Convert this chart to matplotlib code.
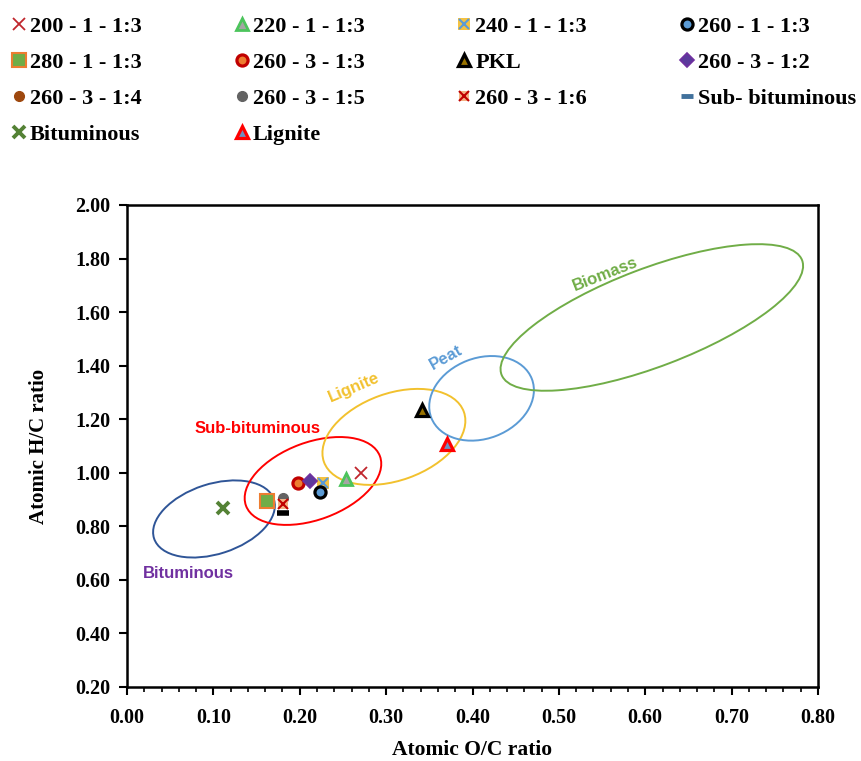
import numpy as np
import matplotlib
matplotlib.use('Agg')
import matplotlib.pyplot as plt
from matplotlib.patches import Ellipse
from matplotlib.transforms import ScaledTranslation
from matplotlib.lines import Line2D
from matplotlib.ticker import MultipleLocator

plt.rcParams['font.family'] = ['Liberation Serif', 'DejaVu Serif']
plt.rcParams['font.weight'] = 'bold'

# sample points (atomic O/C, atomic H/C)
labels = ['200 - 1 - 1:3', '220 - 1 - 1:3', '240 - 1 - 1:3', '260 - 1 - 1:3',
          '280 - 1 - 1:3', '260 - 3 - 1:3', 'PKL', '260 - 3 - 1:2',
          '260 - 3 - 1:4', '260 - 3 - 1:5', '260 - 3 - 1:6', 'Sub- bituminous',
          'Bituminous', 'Lignite']
oc = [0.271, 0.253, 0.227, 0.223, 0.162, 0.198, 0.342, 0.212,
      0.198, 0.181, 0.181, 0.181, 0.111, 0.370]
hc = [1.000, 0.978, 0.960, 0.929, 0.893, 0.960, 1.234, 0.968,
      0.960, 0.905, 0.882, 0.849, 0.867, 1.108]

# coal rank regions: centre (O/C, H/C), semi axes in px, angle, colour, label
regions = ['Bituminous', 'Sub-bituminous', 'Lignite', 'Peat', 'Biomass']
reg_cx = [0.1007, 0.2153, 0.309, 0.4105, 0.6076]
reg_cy = [0.8275, 0.9694, 1.134, 1.278, 1.580]
reg_a = [63, 71.4, 74.3, 53.9, 160.8]
reg_b = [35, 38.7, 43.5, 40.3, 49.0]
reg_ang = [18, 20.3, 19.7, 21.1, 20.85]
reg_col = ['#2F5597', '#FF0000', '#F2C12E', '#5B9BD5', '#70AD47']
lab_x = [0.0706, 0.1516, 0.263, 0.369, 0.554]
lab_y = [0.624, 1.167, 1.319, 1.431, 1.742]
lab_rot = [0, 0, 23, 29, 21.5]
lab_col = ['#7030A0', '#FF0000', '#F2C12E', '#5B9BD5', '#70AD47']

fig = plt.figure(figsize=(8.62, 7.61), dpi=100)
ax = fig.add_axes([127/862, 1-687/761, (818-127)/862, (687-205)/761])

# marker styles per series
styles = [
    [dict(marker='x', color='#C0262D', ms=8, mew=1.3)],
    [dict(marker='^', mfc='#A5A5A5', mec='#4CC45C', ms=8, mew=2.0)],
    [dict(marker='s', mfc='#F4C242', mec='#F4C242', ms=8, mew=0),
     dict(marker='x', color='#5B9BD5', ms=7, mew=1.5)],
    [dict(marker='o', mfc='#5B9BD5', mec='black', ms=8, mew=2.3)],
    [dict(marker='s', mfc='#70AD47', mec='#ED7D31', ms=10, mew=1.5)],
    [dict(marker='o', mfc='#ED7D31', mec='#C00000', ms=8, mew=2.3)],
    [dict(marker='^', mfc='#997300', mec='black', ms=8, mew=2.3)],
    [dict(marker='D', mfc='#5B3A9C', mec='#7030A0', ms=7, mew=1.2)],
    [dict(marker='o', mfc='#9E480E', mec='#9E480E', ms=7, mew=1)],
    [dict(marker='o', mfc='#636363', mec='#636363', ms=7, mew=1)],
    [dict(marker='s', mfc='#F4B183', mec='#F4B183', ms=7, mew=0),
     dict(marker='x', color='#C00000', ms=7, mew=1.5)],
    [dict(marker='_', color='black', ms=9, mew=4)],
    [dict(marker='x', color='#548235', ms=8, mew=2.8)],
    [dict(marker='^', mfc='#6F8FC0', mec='#FF0000', ms=8, mew=2.3)],
]
draw_order = [8, 0, 1, 2, 3, 4, 9, 10, 11, 5, 7, 6, 12, 13]

handles = [None] * len(labels)
for i in draw_order:
    parts = []
    for st in styles[i]:
        ln, = ax.plot([oc[i]], [hc[i]], ls='none', zorder=4, **st)
        parts.append(ln)
    handles[i] = tuple(parts)
# legend shows the sub-bituminous dash in blue
handles[11] = Line2D([], [], ls='none', marker='_', color='#41719C', ms=9, mew=3.5)

for i in range(len(regions)):
    t = fig.dpi_scale_trans + ScaledTranslation(reg_cx[i], reg_cy[i], ax.transData)
    ax.add_patch(Ellipse((0, 0), 2*reg_a[i]/100, 2*reg_b[i]/100, angle=reg_ang[i],
                         transform=t, fill=False, ec=reg_col[i], lw=1.4, zorder=2))
    ax.text(lab_x[i], lab_y[i], regions[i], color=lab_col[i], rotation=lab_rot[i],
            ha='center', va='center', fontsize=12, fontweight='bold',
            family=['Liberation Sans', 'DejaVu Sans'], rotation_mode='anchor')

ax.set_xlim(0, 0.8)
ax.set_ylim(0.2, 2.0)
ax.xaxis.set_major_locator(MultipleLocator(0.1))
ax.xaxis.set_minor_locator(MultipleLocator(0.02))
ax.yaxis.set_major_locator(MultipleLocator(0.2))
ax.xaxis.set_major_formatter(lambda v, p: f'{v:.2f}')
ax.yaxis.set_major_formatter(lambda v, p: f'{v:.2f}')
for s in ax.spines.values():
    s.set_linewidth(1.8)
ax.tick_params(which='major', length=6, width=1.5, labelsize=14.5)
ax.tick_params(axis='x', which='major', pad=9)
ax.tick_params(axis='y', which='major', pad=6)
ax.tick_params(which='minor', length=3.5, width=1.2)
ax.set_xlabel('Atomic O/C ratio', fontsize=15.5, fontweight='bold', labelpad=9)
ax.set_ylabel('Atomic H/C ratio', fontsize=15, fontweight='bold', labelpad=19)

# legend is row-wise in the reference, matplotlib fills column-wise
ncol = 4
order = []
for c in range(ncol):
    order += list(range(c, len(labels), ncol))
fig.legend([handles[k] for k in order], [labels[k] for k in order], ncol=ncol,
           loc='upper left', bbox_to_anchor=(12/862, 1-16/761), frameon=False,
           fontsize=16, handlelength=0.6, handletextpad=0.2, columnspacing=4.2,
           labelspacing=0.7, borderpad=0, borderaxespad=0)

fig.savefig('out.png', dpi=100)
